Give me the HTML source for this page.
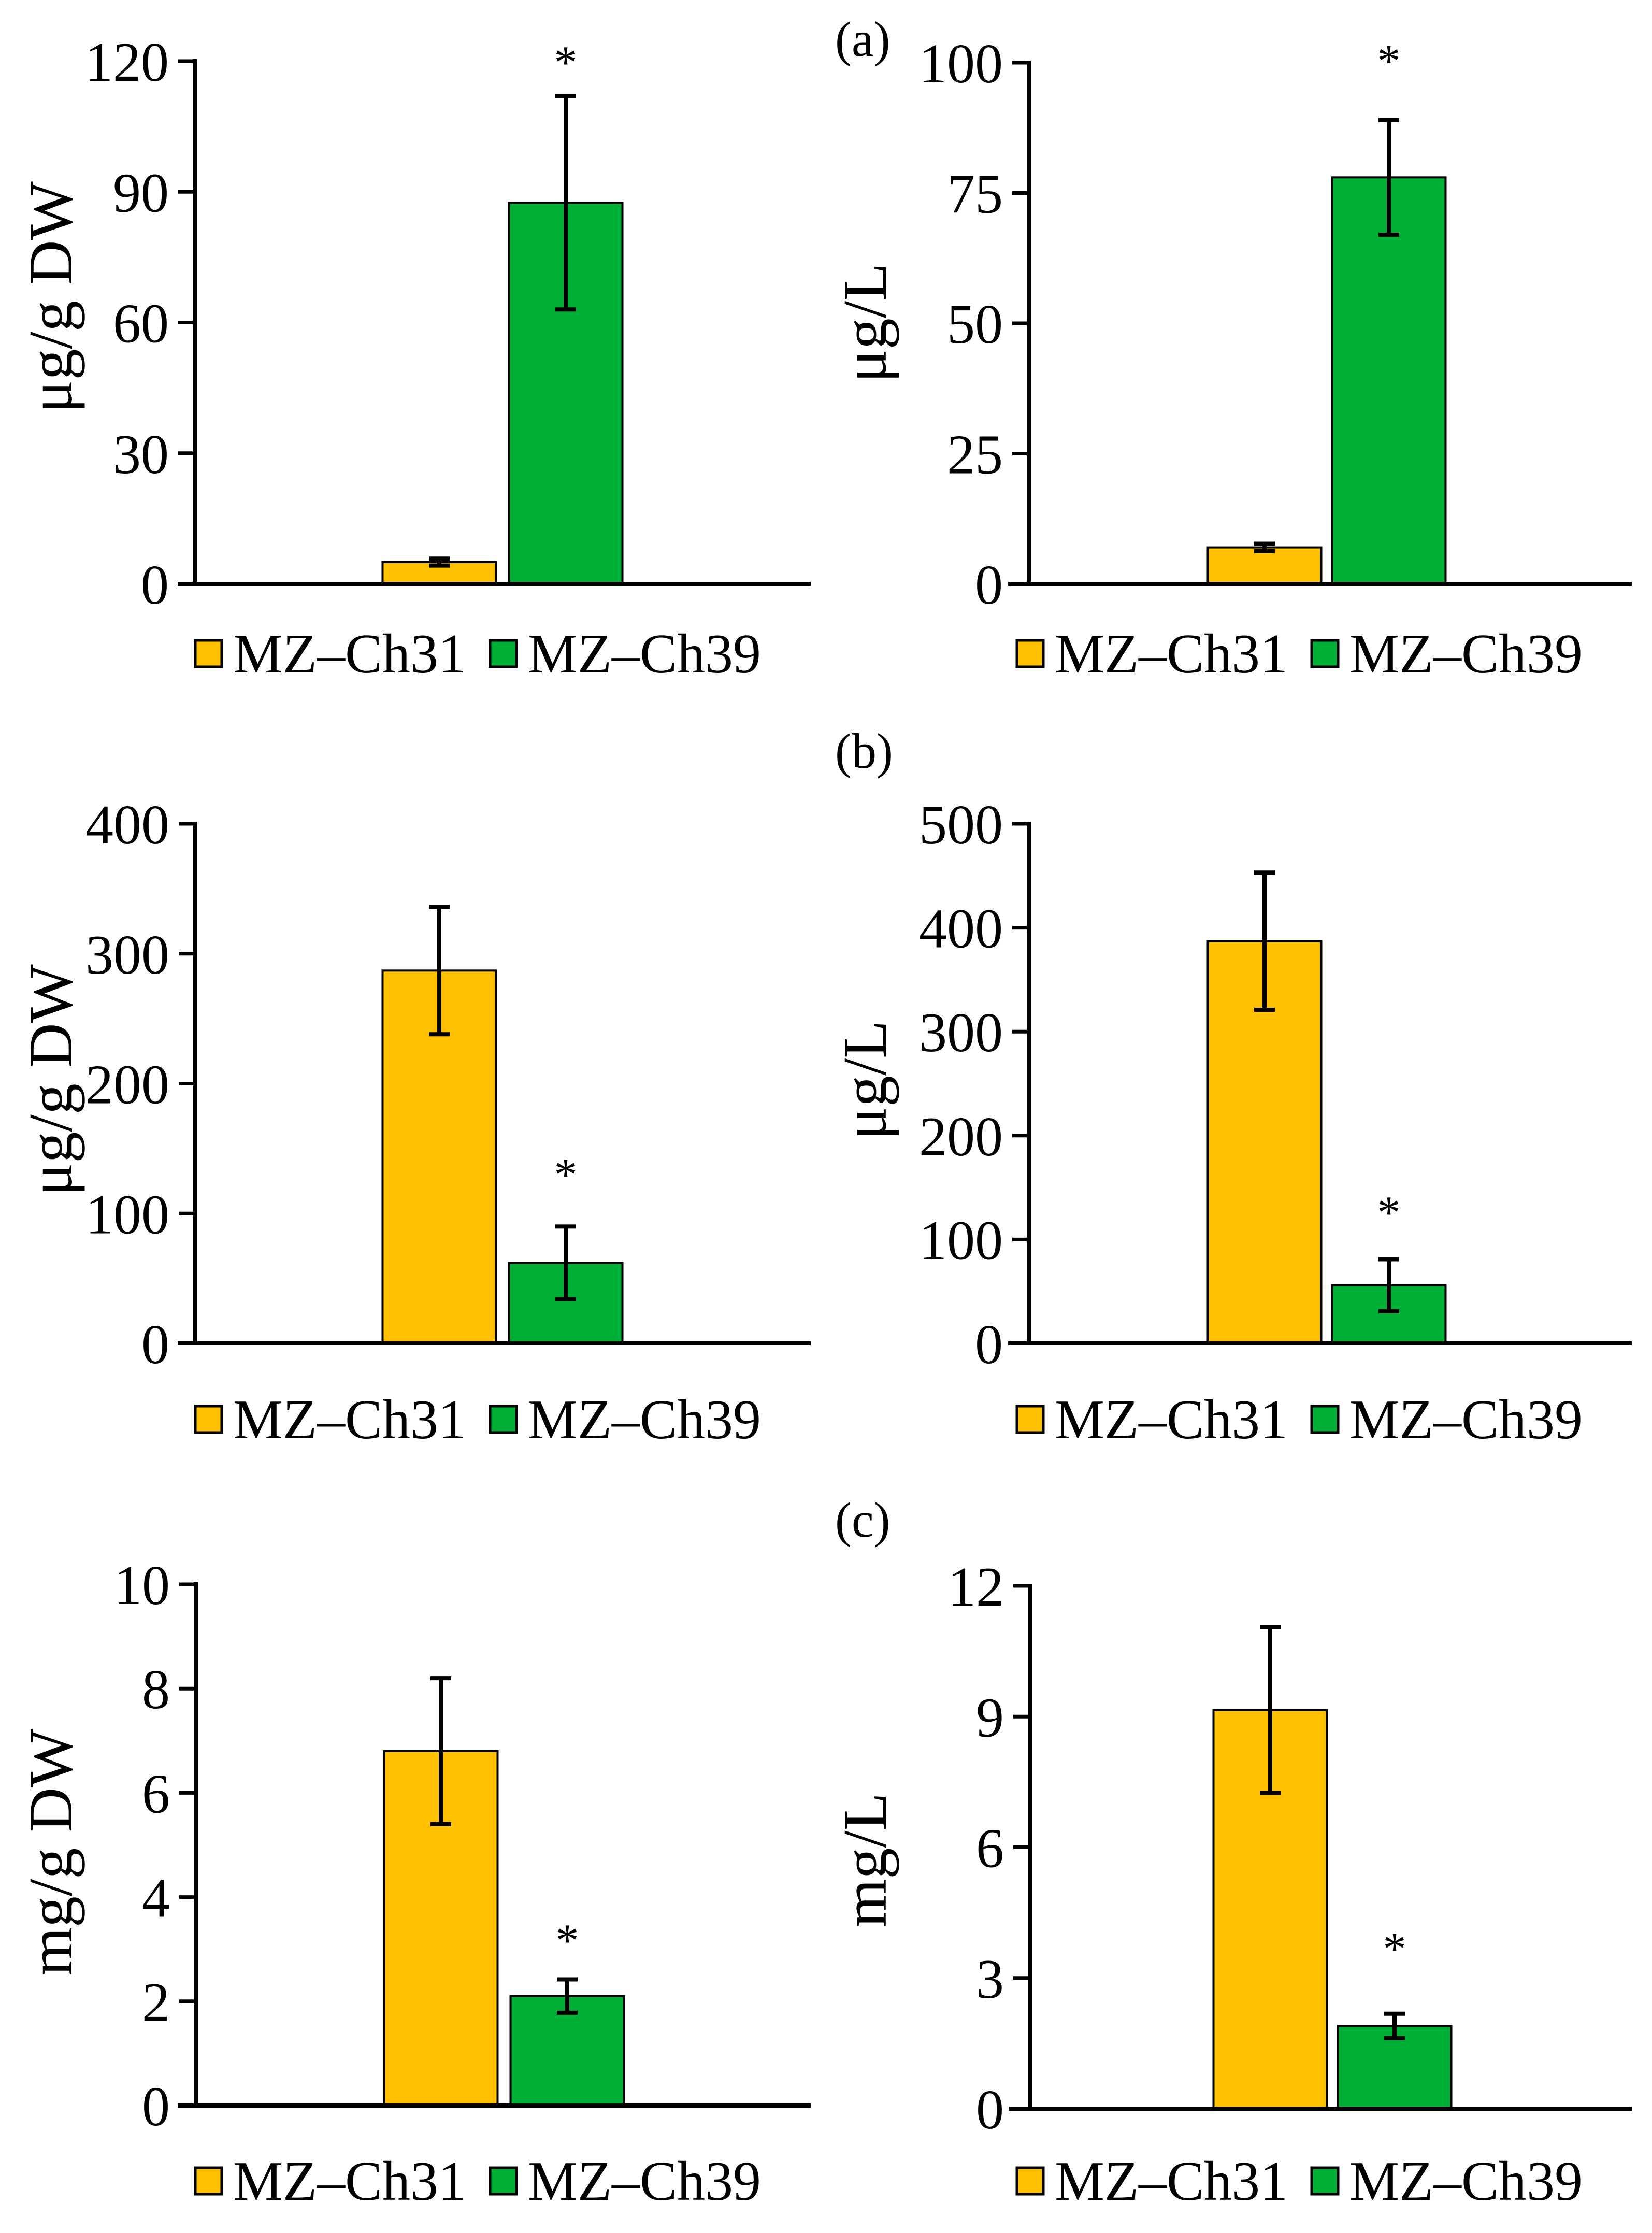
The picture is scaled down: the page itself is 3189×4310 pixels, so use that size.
<!DOCTYPE html>
<html><head><meta charset="utf-8"><style>
html,body{margin:0;padding:0;background:#fff;}
svg{display:block;font-family:"Liberation Serif","Times New Roman",serif;}
</style></head><body>
<svg id="fig" width="3189" height="4310" viewBox="0 0 3189 4310" xmlns="http://www.w3.org/2000/svg"></svg>
<script>
const categories = ["MZ–Ch31", "MZ–Ch39"];
const colors = ["#FFC000", "#00B036"];
const p1Values = [5, 87.5];   const p1Err = [0.8, 24.5];  const p1Ticks = [0, 30, 60, 90, 120];
const p2Values = [7, 78];     const p2Err = [0.7, 11];    const p2Ticks = [0, 25, 50, 75, 100];
const p3Values = [287, 62];   const p3Err = [49, 28];     const p3Ticks = [0, 100, 200, 300, 400];
const p4Values = [387, 56];   const p4Err = [66, 25];     const p4Ticks = [0, 100, 200, 300, 400, 500];
const p5Values = [6.8, 2.1];  const p5Err = [1.4, 0.32];  const p5Ticks = [0, 2, 4, 6, 8, 10];
const p6Values = [9.15, 1.9]; const p6Err = [1.9, 0.28];  const p6Ticks = [0, 3, 6, 9, 12];
const p1Star = [false, true]; const p2Star = [false, true]; const p3Star = [false, true];
const p4Star = [false, true]; const p5Star = [false, true]; const p6Star = [false, true];
const yTitles = ["μg/g DW", "μg/L", "μg/g DW", "μg/L", "mg/g DW", "mg/L"];

const NS = "http://www.w3.org/2000/svg";
const svg = document.getElementById("fig");
function mk(tag, attrs, parent) {
  const e = document.createElementNS(NS, tag);
  for (const k in attrs) e.setAttribute(k, attrs[k]);
  (parent || svg).appendChild(e);
  return e;
}

const panels = [
  {vals:p1Values, err:p1Err, ticks:p1Ticks, star:p1Star, so:80, ax:376, x0:343, x1:1565, top:118, zero:1127, c:[848,1092], tx:138, ty:574, leg:1262, lx:[375,944]},
  {vals:p2Values, err:p2Err, ticks:p2Ticks, star:p2Star, so:0, ax:1986, x0:1946, x1:3150, top:121, zero:1127, c:[2441,2681], tx:1710, ty:623, leg:1262, lx:[1961,2530]},
  {vals:p3Values, err:p3Err, ticks:p3Ticks, star:p3Star, so:115, ax:377, x0:343, x1:1565, top:1590, zero:2593, c:[848,1092], tx:138, ty:2085, leg:2740, lx:[375,944]},
  {vals:p4Values, err:p4Err, ticks:p4Ticks, star:p4Star, so:105, ax:1986, x0:1946, x1:3150, top:1590, zero:2593, c:[2441,2681], tx:1710, ty:2085, leg:2740, lx:[1961,2530]},
  {vals:p5Values, err:p5Err, ticks:p5Ticks, star:p5Star, so:90, ax:378, x0:343, x1:1565, top:3058, zero:4064, c:[851,1095], tx:138, ty:3575, leg:4210, lx:[375,944]},
  {vals:p6Values, err:p6Err, ticks:p6Ticks, star:p6Star, so:140, ax:1988, x0:1948, x1:3150, top:3061, zero:4070, c:[2452,2692], tx:1710, ty:3590, leg:4210, lx:[1961,2530]}
];

panels.forEach((p, pi) => {
  const g = mk("g", {});
  
  
  const max = p.ticks[p.ticks.length - 1];
  const y = v => p.zero - (v / max) * (p.zero - p.top);
  const bw = 219;
  p.vals.forEach((v, i) => {
    const r = mk("rect", {x: p.c[i] - bw/2, y: y(v), width: bw, height: p.zero - y(v), fill: colors[i], stroke: "#000", "stroke-width": 4}, g);
    
    
    const hi = y(v + p.err[i]), lo = y(v - p.err[i]);
    const eb = mk("path", {d: `M${p.c[i]},${hi}V${lo}M${p.c[i]-20},${hi}H${p.c[i]+20}M${p.c[i]-20},${lo}H${p.c[i]+20}`, stroke: "#000", "stroke-width": 8, fill: "none"}, g);
    
    
    if (p.star[i]) {
      const sy = pi === 1 ? p.top - 18 : hi - p.so;
      const s = mk("text", {x: p.c[i], y: sy + 45, "font-size": 90, "text-anchor": "middle"}, g);
      s.textContent = "*";
      
      
    }
  });
  const ya = mk("line", {x1: p.ax, y1: p.top - 4, x2: p.ax, y2: p.zero, stroke: "#000", "stroke-width": 8}, g);
  
  
  const xa = mk("line", {x1: p.x0, y1: p.zero, x2: p.x1, y2: p.zero, stroke: "#000", "stroke-width": 8}, g);
  
  
  p.ticks.forEach(t => {
    const tm = mk("line", {x1: p.ax - 32, y1: y(t), x2: p.ax, y2: y(t), stroke: "#000", "stroke-width": 7}, g);
    
    
    const tl = mk("text", {x: p.ax - 50, y: y(t) + 38, "font-size": 108, "text-anchor": "end"}, g);
    tl.textContent = t;
    
    
  });
  const tt = mk("text", {x: p.tx, y: p.ty, "font-size": 120, "text-anchor": "middle", transform: `rotate(-90 ${p.tx} ${p.ty})`}, g);
  tt.textContent = yTitles[pi];
  
  
  categories.forEach((c, i) => {
    const sw = mk("rect", {x: p.lx[i] + 2, y: p.leg - 26, width: 51, height: 51, fill: colors[i], stroke: "#000", "stroke-width": 5}, g);
    
    
    const lt = mk("text", {x: p.lx[i] + 75, y: p.leg + 36, "font-size": 108}, g);
    lt.textContent = c;
    
    
  });
});

[["(a)", 108], ["(b)", 1482], ["(c)", 2966]].forEach(([t, yy]) => {
  const e = mk("text", {x: 1612, y: yy, "font-size": 96});
  e.textContent = t;
  
  
});
</script>
</body></html>
